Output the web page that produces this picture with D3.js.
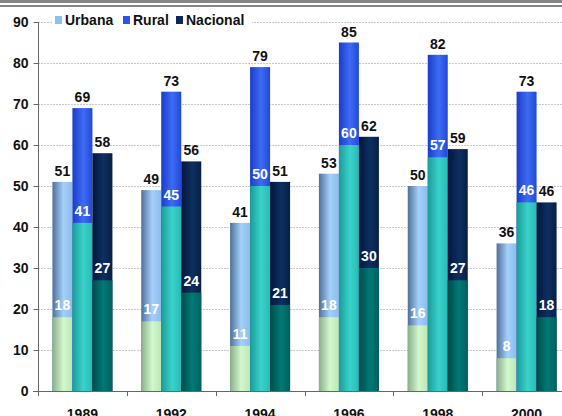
<!DOCTYPE html>
<html>
<head>
<meta charset="utf-8">
<script src="https://cdn.jsdelivr.net/npm/d3@7"></script>
<style>
  body { margin: 0; background: #fff; }
  svg { display: block; font-family: "Liberation Sans", Arial, sans-serif; font-weight: bold; }
</style>
</head>
<body>
<svg id="chart" width="562" height="416"></svg>
<script>
const years = ['1989', '1992', '1994', '1996', '1998', '2000']
const series = ['Urbana', 'Rural', 'Nacional']
// outer bar totals
const urbana = [51, 49, 41, 53, 50, 36]
const rural = [69, 73, 79, 85, 82, 73]
const nacional = [58, 56, 51, 62, 59, 46]
// inner (lower) segment
const urbanaIn = [18, 17, 11, 18, 16, 8]
const ruralIn = [41, 45, 50, 60, 57, 46]
const nacionalIn = [27, 24, 21, 30, 27, 18]
const yTicks = [0, 10, 20, 30, 40, 50, 60, 70, 80, 90]

const outerVals = [urbana, rural, nacional]
const innerVals = [urbanaIn, ruralIn, nacionalIn]

// gradient stops: dark edge, light middle, edge
const outerCols = [
    ['#4f7098', '#a4d0fb', '#8cbce8'],
    ['#1a3cc8', '#3d6cf4', '#2148d8'],
    ['#03163a', '#0d2f62', '#062044']
]
const innerCols = [
    ['#8aae8c', '#d2f8cc', '#bde6b8'],
    ['#1a9c96', '#3ad2cc', '#28bab4'],
    ['#004c4a', '#007a76', '#00605e']
]
const legendCols = ['#8cc0ee', '#2a55e8', '#0a2858']

let svg = d3.select('#chart')

// top double rule
svg.append('rect').attr('x', 0).attr('y', 0).attr('width', 562).attr('height', 3).attr('fill', '#858585')
svg.append('rect').attr('x', 0).attr('y', 5).attr('width', 562).attr('height', 2).attr('fill', '#858585')

let defs = svg.append('defs')
function makeGrad(id, cols) {
    let g = defs.append('linearGradient').attr('id', id)
        .attr('x1', '0%').attr('x2', '100%').attr('y1', '0%').attr('y2', '0%')
    g.append('stop').attr('offset', '0%').attr('stop-color', cols[0])
    g.append('stop').attr('offset', '55%').attr('stop-color', cols[1])
    g.append('stop').attr('offset', '100%').attr('stop-color', cols[2])
}
series.forEach((s, i) => {
    makeGrad('out' + i, outerCols[i])
    makeGrad('in' + i, innerCols[i])
})

let x = d3.scaleBand().domain(years).range([38, 571]).paddingInner(0).paddingOuter(0)
let y = d3.scaleLinear().domain([0, 90]).range([391, 22])
let barW = 20
const fs = 14

// gridlines
svg.append('g').selectAll('line').data(yTicks.filter(d => d > 0)).join('line')
    .attr('x1', 38).attr('x2', 562)
    .attr('y1', d => y(d) + 0.5).attr('y2', d => y(d) + 0.5)
    .attr('stroke', '#c8c8c8').attr('stroke-dasharray', '2,1')

// y axis
let yAxis = svg.append('g').attr('transform', 'translate(38.5,0)')
    .call(d3.axisLeft(y).tickValues(yTicks).tickSize(5).tickPadding(5))
yAxis.select('.domain').attr('stroke', '#666').attr('d', `M0,${y(90)}V${y(0) + 5}`)
yAxis.selectAll('.tick line').attr('stroke', '#666')
yAxis.selectAll('text').attr('font-size', fs).attr('font-weight', 'bold').attr('fill', '#111')
    .attr('font-family', '"Liberation Sans", Arial, sans-serif')

// x axis
let xAxis = svg.append('g').attr('transform', `translate(0,${y(0) + 0.5})`)
    .call(d3.axisBottom(x).tickSize(0).tickPadding(18))
xAxis.select('.domain').attr('stroke', '#666').attr('d', 'M33,0H562')
xAxis.selectAll('text').attr('font-size', fs).attr('font-weight', 'bold').attr('fill', '#111')
    .attr('font-family', '"Liberation Sans", Arial, sans-serif')
svg.append('g').selectAll('line').data(years.slice(1)).join('line')
    .attr('x1', d => Math.round(x(d)) + 0.5).attr('x2', d => Math.round(x(d)) + 0.5)
    .attr('y1', y(0)).attr('y2', y(0) + 5).attr('stroke', '#666')

// bars
let groups = svg.append('g').selectAll('g').data(years).join('g')
    .attr('transform', d => `translate(${x(d) + x.bandwidth() / 2 - barW * 1.5},0)`)

series.forEach((s, si) => {
    groups.append('rect')
        .attr('x', si * barW).attr('width', barW)
        .attr('y', (d, i) => y(outerVals[si][i]))
        .attr('height', (d, i) => y(0) - y(outerVals[si][i]))
        .attr('fill', `url(#out${si})`)
    groups.append('rect')
        .attr('x', si * barW).attr('width', barW)
        .attr('y', (d, i) => y(innerVals[si][i]))
        .attr('height', (d, i) => y(0) - y(innerVals[si][i]))
        .attr('fill', `url(#in${si})`)
    groups.append('text')
        .attr('x', si * barW + barW / 2)
        .attr('y', (d, i) => y(outerVals[si][i]) - 6)
        .attr('text-anchor', 'middle').attr('font-size', fs).attr('fill', '#111')
        .text((d, i) => outerVals[si][i])
    groups.append('text')
        .attr('x', si * barW + barW / 2)
        .attr('y', (d, i) => y(innerVals[si][i]) - 7)
        .attr('text-anchor', 'middle').attr('font-size', fs).attr('fill', '#fff')
        .text((d, i) => innerVals[si][i])
})

// legend
let legend = svg.append('g').attr('transform', 'translate(52,12)')
legend.append('rect').attr('x', 0).attr('y', 0).attr('width', 200).attr('height', 17).attr('fill', '#fff')
let lx = [3, 71, 124]
series.forEach((s, i) => {
    legend.append('rect').attr('x', lx[i]).attr('y', 4).attr('width', 7).attr('height', 8)
        .attr('fill', legendCols[i])
    legend.append('text').attr('x', lx[i] + 10).attr('y', 13).attr('font-size', fs).attr('fill', '#111')
        .text(s)
})
</script>
</body>
</html>
